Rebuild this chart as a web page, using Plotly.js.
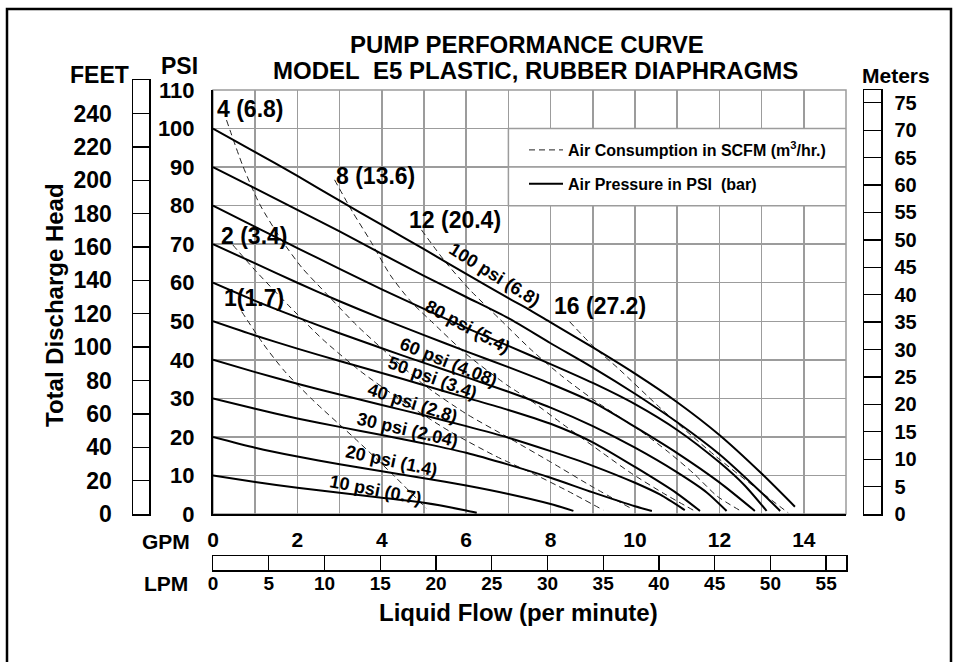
<!DOCTYPE html>
<html><head><meta charset="utf-8">
<script src="https://cdn.plot.ly/plotly-3.0.1.min.js"></script>
<style>html,body{margin:0;padding:0;background:#fff}</style>
</head><body><div id="chart" style="width:959px;height:662px"></div>
<script>
// ---------- data (GPM, head in PSI) ----------
const p100Gpm = [0, 1, 2, 3, 4, 5, 6, 7, 7.51, 8, 9, 10, 11, 12, 13, 13.79];
const p100Psi = [100, 93.9, 87.7, 81.3, 75, 68.7, 62.3, 56, 52.9, 49.7, 43.2, 36.4, 29, 20.5, 10.5, 1.9];
const p90Gpm = [0, 1, 2, 3, 4, 5, 6, 7, 8, 9, 10, 11, 12, 13, 13.44];
const p90Psi = [90, 84.5, 78.9, 73.3, 67.5, 61.8, 56.3, 50.8, 44.3, 38.0, 31.2, 23.8, 15.5, 5.5, 0.8];
const p80Gpm = [0, 1, 2, 3, 4, 5, 6, 7, 8, 9, 10, 11, 12, 12.6, 13.12];
const p80Psi = [80, 74.5, 69, 63.6, 58.3, 53.2, 48.3, 43.6, 38.9, 34, 28.5, 21.8, 13.4, 7.4, 0.8];
const p70Gpm = [0, 1, 2, 3, 4, 5, 6, 7, 8, 9, 10, 11, 12, 12.84];
const p70Psi = [70, 65, 60, 55.2, 50.7, 46.4, 42.2, 38.1, 33.8, 29, 22.6, 15.8, 8.2, 0.8];
const p60Gpm = [0, 1, 2, 3, 4, 5, 6, 7, 8, 9, 10, 11, 11.7, 12.17];
const p60Psi = [60, 55.3, 51, 46.9, 43, 39.2, 35.5, 31.7, 27.6, 22.8, 17.2, 10.8, 5.6, 0.8];
const p50Gpm = [0, 1, 2, 3, 4, 5, 6, 7, 8, 9, 10, 11, 11.54];
const p50Psi = [50, 46.3, 42.9, 39.7, 36.6, 33.4, 30.2, 27, 23.4, 18.6, 12.2, 5.3, 0.8];
const p40Gpm = [0, 1, 2, 3, 4, 5, 6, 7, 8, 9, 10, 10.6, 11.18];
const p40Psi = [40, 36.8, 33.8, 31, 28.3, 25.6, 22.8, 19.8, 16.3, 12.5, 8.1, 5, 1];
const p30Gpm = [0, 1, 2, 3, 4, 5, 6, 7, 8, 9, 10, 10.4];
const p30Psi = [30, 27.3, 24.8, 22.6, 20.5, 18.3, 15.9, 12.8, 9.4, 5.6, 2, 0.8];
const p20Gpm = [0, 1, 2, 3, 4, 5, 6, 7, 8, 8.54];
const p20Psi = [20, 17.2, 14.9, 12.9, 11.1, 9.3, 7.4, 5.2, 2.6, 0.8];
const p10Gpm = [0, 1, 2, 3, 4, 5, 6, 6.25];
const p10Psi = [10, 8.3, 6.8, 5.5, 4.2, 2.9, 0.9, 0.3];

const c1Gpm = [0.68, 1.2, 1.7, 2.4, 3.4, 4.3, 5.05];
const c1Psi = [52.5, 44, 37, 29.2, 19.2, 9.8, 1.5];
const c2Gpm = [0.47, 1, 1.8, 2.6, 3.5, 4.5, 5.6, 6.7, 7.6, 8.4, 9.25];
const c2Psi = [69.8, 63.2, 54, 45.3, 37, 29.2, 21.5, 15, 10.4, 6, 1];
const c4Gpm = [0.32, 0.7, 1.1, 1.6, 2.1, 2.7, 3.4, 4.2, 5, 6, 7, 8, 9, 9.95];
const c4Psi = [102.2, 90.5, 80.5, 71.5, 64, 57, 49, 41, 33.5, 26, 19.8, 13.5, 7, 1.2];
const c8Gpm = [2.88, 3.3, 3.75, 4.2, 4.7, 5.22, 6, 6.96, 7.51, 8.3, 9.25, 9.88, 10.67, 11.38];
const c8Psi = [86.7, 78.5, 70.5, 62, 55, 49.5, 41.5, 33.5, 29.6, 23.2, 15.7, 10.8, 5.4, 1];
const c12Gpm = [4.94, 5.5, 6.1, 6.8, 7.55, 8.3, 9.1, 10.1, 10.8, 11.4, 11.95, 12.49];
const c12Psi = [73.7, 65.5, 58, 50.5, 42.5, 35.5, 29, 21.8, 16, 10.4, 4.6, 0.9];
const c16Gpm = [8.45, 9, 9.6, 10.6, 11.9, 13, 13.63];
const c16Psi = [49.9, 43.6, 37.8, 27.5, 15.1, 5.6, 0.3];

const pressureLabels = ['100 psi (6.8)', '80 psi (5.4)', '60 psi (4.08)', '50 psi (3.4)',
  '40 psi (2.8)', '30 psi (2.04)', '20 psi (1.4)', '10 psi (0.7)'];
const airLabels = ['4 (6.8)', '8 (13.6)', '12 (20.4)', '2 (3.4)', '1(1.7)', '16 (27.2)'];
const gpmTicks = [0, 1, 2, 3, 4, 5, 6, 7, 8, 9, 10, 11, 12, 13, 14, 15];
const psiTicks = [0, 10, 20, 30, 40, 50, 60, 70, 80, 90, 100, 110];
const feetTicks = [0, 20, 40, 60, 80, 100, 120, 140, 160, 180, 200, 220, 240, 260];
const meterTicks = [0, 5, 10, 15, 20, 25, 30, 35, 40, 45, 50, 55, 60, 65, 70, 75];
const lpmTicks = [0, 5, 10, 15, 20, 25, 30, 35, 40, 45, 50, 55];

// unit conversions
const FT_PER_PSI = 2.31, M_PER_PSI = 0.70307, LPM_PER_GPM = 3.78541;
const GPM_MAX = 15, PSI_MAX = 110, FEET_MAX = 260;

// ---------- layout helpers ----------
const W = 959, H = 662;
const px = v => v / W, py = v => 1 - v / H;
const FONT = 'Liberation Sans, Arial, sans-serif';
const GRID = '#9c9c9c';
const f = (size) => ({family: FONT, size: size, color: '#000', weight: 'bold'});

const solid = [[p100Gpm, p100Psi], [p90Gpm, p90Psi], [p80Gpm, p80Psi], [p70Gpm, p70Psi], [p60Gpm, p60Psi],
  [p50Gpm, p50Psi], [p40Gpm, p40Psi], [p30Gpm, p30Psi], [p20Gpm, p20Psi], [p10Gpm, p10Psi]];
const dashed = [[c1Gpm, c1Psi], [c2Gpm, c2Psi], [c4Gpm, c4Psi], [c8Gpm, c8Psi], [c12Gpm, c12Psi], [c16Gpm, c16Psi]];

const traces = [];
dashed.forEach((c, i) => traces.push({
  x: c[0], y: c[1], type: 'scatter', mode: 'lines', xaxis: 'x', yaxis: 'y',
  line: {color: '#222', width: 1, dash: '6px,4px', shape: 'spline', smoothing: 0.7},
  name: 'Air Consumption in SCFM (m<sup>3</sup>/hr.)', legendgroup: 'air',
  showlegend: i === 0, hoverinfo: 'skip'
}));
solid.forEach((c, i) => traces.push({
  x: c[0], y: c[1], type: 'scatter', mode: 'lines', xaxis: 'x', yaxis: 'y',
  line: {color: '#000', width: 2, shape: 'spline', smoothing: 0.7},
  name: 'Air Pressure in PSI&nbsp; (bar)', legendgroup: 'press',
  showlegend: i === 0, hoverinfo: 'skip'
}));
// invisible carriers so that the three scale bars (feet, meters, LPM) get drawn
const hidden = {type: 'scatter', mode: 'markers', marker: {opacity: 0, size: 1}, showlegend: false, hoverinfo: 'skip'};
traces.push(Object.assign({x: feetTicks.map(() => 0.5), y: feetTicks, xaxis: 'x2', yaxis: 'y2'}, hidden));
traces.push(Object.assign({x: meterTicks.map(() => 0.5), y: meterTicks, xaxis: 'x3', yaxis: 'y3'}, hidden));
traces.push(Object.assign({x: lpmTicks, y: lpmTicks.map(() => 0.5), xaxis: 'x4', yaxis: 'y4'}, hidden));

const ann = [];
const A = (text, x, y, size, extra) => ann.push(Object.assign({
  text: text, x: px(x), y: py(y), xref: 'paper', yref: 'paper', showarrow: false,
  xanchor: 'center', yanchor: 'middle', font: f(size)
}, extra || {}));
A('PUMP PERFORMANCE CURVE', 527, 44, 24);
A('MODEL&nbsp; E5 PLASTIC, RUBBER DIAPHRAGMS', 535, 70, 24);
A('FEET', 99, 75, 23);
A('PSI', 179, 66, 23);
A('Meters', 896, 75, 21);
A('GPM', 166, 541, 21);
A('LPM', 166, 583, 21);
A('Liquid Flow (per minute)', 518, 612, 24);
A('Total Discharge Head', 54, 305, 24, {textangle: -90});

// curve labels in data coordinates
const pressPos = [[6.68, 62.0, 32], [6.04, 48.5, 28], [5.57, 39.4, 22], [5.21, 35.3, 20],
  [4.72, 28.8, 18], [4.62, 21.8, 13], [4.24, 13.75, 12], [3.86, 6.2, 11]];
pressureLabels.forEach((t, i) => ann.push({text: t, x: pressPos[i][0], y: pressPos[i][1],
  xref: 'x', yref: 'y', showarrow: false, textangle: pressPos[i][2], font: f(18)}));
const airPos = [[0.88, 105.1], [3.84, 87.7], [5.73, 76.3], [0.97, 72.1], [0.97, 56.0], [9.17, 54.0]];
airLabels.forEach((t, i) => ann.push({text: t, x: airPos[i][0], y: airPos[i][1],
  xref: 'x', yref: 'y', showarrow: false, font: f(23)}));

const noGrid = {showgrid: false, zeroline: false, fixedrange: true};
const barX = (d, anchor) => Object.assign({domain: d, range: [0, 1], anchor: anchor, showline: true, mirror: true,
  linecolor: '#000', linewidth: 1.5, showticklabels: false, ticks: ''}, noGrid);

const layout = {
  width: W, height: H, margin: {l: 0, r: 0, t: 0, b: 0},
  paper_bgcolor: '#fff', plot_bgcolor: '#fff',
  showlegend: true,
  legend: {x: px(524), xanchor: 'left', y: py(133), yanchor: 'top', bgcolor: 'rgba(0,0,0,0)',
    font: f(16), tracegroupgap: 10, itemwidth: 34},
  xaxis: {domain: [px(213), px(846)], range: [0, GPM_MAX], anchor: 'y',
    tickvals: gpmTicks, ticktext: gpmTicks.map(v => (v % 2 === 0 && v < 15) ? String(v) : ''),
    showgrid: true, gridcolor: GRID, gridwidth: 1.5, zeroline: false, fixedrange: true,
    showline: true, linecolor: '#000', linewidth: 2, ticks: '', tickfont: f(21), ticklabelstandoff: 6},
  yaxis: {domain: [py(514), py(90)], range: [0, PSI_MAX], anchor: 'x',
    tickvals: psiTicks, showgrid: true, gridcolor: GRID, gridwidth: 1.5, zeroline: false, fixedrange: true,
    showline: true, linecolor: '#000', linewidth: 2, ticks: '', tickfont: f(22), ticklabelstandoff: 12},
  xaxis2: barX([px(133), px(149)], 'y2'),
  yaxis2: Object.assign({domain: [py(514), py(514 - FEET_MAX / FT_PER_PSI * (424 / PSI_MAX))], range: [0, FEET_MAX],
    anchor: 'x2', side: 'left',
    tickvals: feetTicks, ticktext: feetTicks.map(v => v < FEET_MAX ? String(v) : ''),
    ticks: 'inside', ticklen: 16, tickwidth: 1.3, tickcolor: '#000',
    showline: true, mirror: true, linecolor: '#000', linewidth: 1.5, tickfont: f(23), ticklabelstandoff: 15}, noGrid),
  xaxis3: barX([px(864), px(881)], 'y3'),
  yaxis3: Object.assign({domain: [py(514), py(90)], range: [0, PSI_MAX * M_PER_PSI], anchor: 'x3', side: 'right',
    tickvals: meterTicks, ticks: 'inside', ticklen: 17, tickwidth: 1.3, tickcolor: '#000',
    showline: true, mirror: true, linecolor: '#000', linewidth: 1.5, tickfont: f(20), ticklabelstandoff: 8}, noGrid),
  xaxis4: Object.assign({domain: [px(213), px(846)], range: [0, GPM_MAX * LPM_PER_GPM], anchor: 'y4', side: 'bottom',
    tickvals: lpmTicks, ticks: 'inside', ticklen: 14, tickwidth: 1.3, tickcolor: '#000',
    showline: true, mirror: true, linecolor: '#000', linewidth: 1.5, tickfont: f(19), ticklabelstandoff: -4}, noGrid),
  yaxis4: Object.assign({domain: [py(570), py(556)], range: [0, 1], anchor: 'x4', showline: true, mirror: true,
    linecolor: '#000', linewidth: 1.5, showticklabels: false, ticks: ''}, noGrid),
  shapes: [
    {type: 'rect', xref: 'paper', yref: 'paper', x0: px(7), x1: px(951), y0: py(720), y1: py(9),
      line: {color: '#000', width: 2.5}},
    {type: 'rect', xref: 'paper', yref: 'paper', x0: px(213), x1: px(846), y0: py(514), y1: py(90),
      line: {color: GRID, width: 1.5}, layer: 'between'},
    {type: 'rect', xref: 'x', yref: 'y', x0: 7, x1: GPM_MAX, y0: 90, y1: 100, fillcolor: '#fff',
      line: {color: GRID, width: 1.5}, layer: 'between'},
    {type: 'rect', xref: 'x', yref: 'y', x0: 7, x1: GPM_MAX, y0: 80, y1: 90, fillcolor: '#fff',
      line: {color: GRID, width: 1.5}, layer: 'between'}
  ],
  annotations: ann
};

Plotly.newPlot('chart', traces, layout, {displayModeBar: false, staticPlot: true});
</script></body></html>
